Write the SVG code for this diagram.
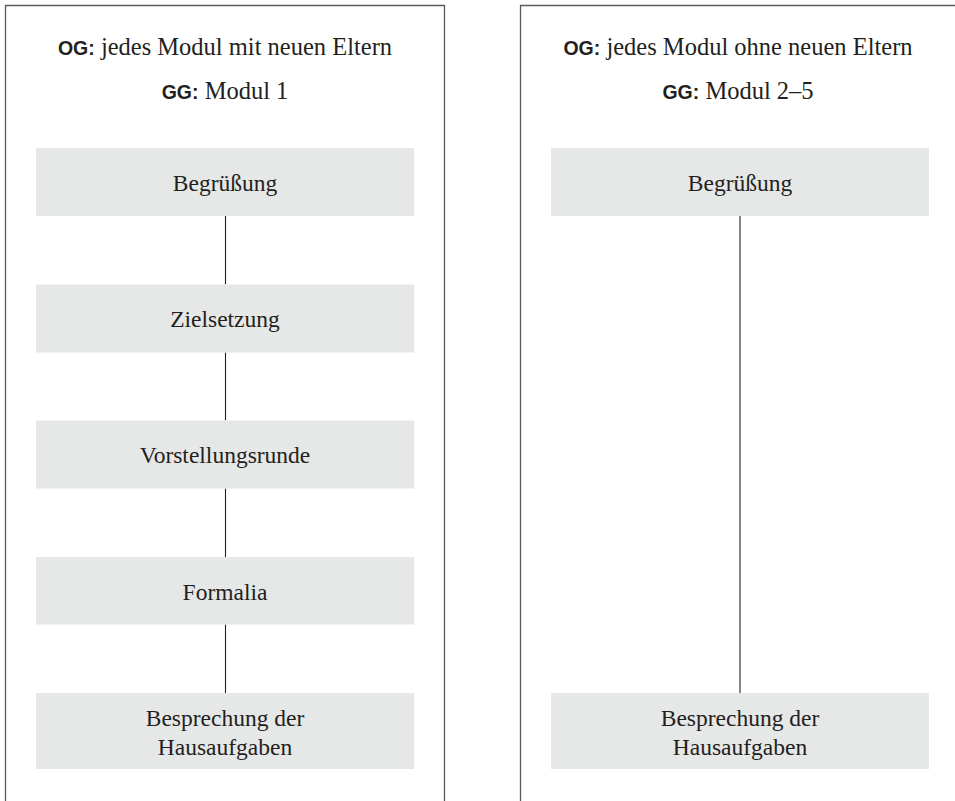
<svg xmlns="http://www.w3.org/2000/svg" width="955" height="801" viewBox="0 0 955 801">
<style>
  .frame { fill: none; stroke: #58595b; stroke-width: 1.3; }
  .box { fill: #e6e7e7; }
  .txt { font-family: "Liberation Serif", "Times New Roman", serif; font-size: 23.5px; fill: #231f20; text-anchor: middle; }
  .head { font-size: 24.5px; }
  .lbl { font-family: "Liberation Sans", Arial, sans-serif; font-weight: bold; font-size: 19.5px; fill: #231f20; }
  .conn { stroke: #231f20; stroke-width: 1.1; fill: none; }
</style>
<rect width="955" height="801" fill="#ffffff"/>

<g id="panel-left">
  <path class="frame" d="M5.5,801 V5.5 H444.5 V801"/>
  <text class="txt head" x="225" y="55"><tspan class="lbl">OG:</tspan> jedes Modul mit neuen Eltern</text>
  <text class="txt head" x="225" y="99"><tspan class="lbl">GG:</tspan> Modul 1</text>
</g>

<g id="panel-right">
  <path class="frame" d="M520.5,801 V5.5 H955"/>
  <text class="txt head" x="738" y="55"><tspan class="lbl">OG:</tspan> jedes Modul ohne neuen Eltern</text>
  <text class="txt head" x="738" y="99"><tspan class="lbl">GG:</tspan> Modul 2–5</text>
</g>

<g id="connectors">
  <line class="conn" x1="225.5" y1="216" x2="225.5" y2="284.5"/>
  <line class="conn" x1="225.5" y1="352.5" x2="225.5" y2="420.5"/>
  <line class="conn" x1="225.5" y1="488.5" x2="225.5" y2="557"/>
  <line class="conn" x1="225.5" y1="624.5" x2="225.5" y2="693"/>
  <line class="conn" x1="740" y1="216" x2="740" y2="693"/>
</g>

<g id="l-begruessung">
  <rect class="box" x="36" y="148" width="378" height="68"/>
  <text class="txt" x="225" y="191">Begrüßung</text>
</g>
<g id="l-zielsetzung">
  <rect class="box" x="36" y="284.5" width="378" height="68"/>
  <text class="txt" x="225" y="327">Zielsetzung</text>
</g>
<g id="l-vorstellungsrunde">
  <rect class="box" x="36" y="420.5" width="378" height="68"/>
  <text class="txt" x="225" y="463">Vorstellungsrunde</text>
</g>
<g id="l-formalia">
  <rect class="box" x="36" y="557" width="378" height="67.5"/>
  <text class="txt" x="225" y="600">Formalia</text>
</g>
<g id="l-hausaufgaben">
  <rect class="box" x="36" y="693" width="378" height="76"/>
  <text class="txt" x="225" y="726">Besprechung der</text>
  <text class="txt" x="225" y="755">Hausaufgaben</text>
</g>

<g id="r-begruessung">
  <rect class="box" x="551" y="148" width="378" height="68"/>
  <text class="txt" x="740" y="191">Begrüßung</text>
</g>
<g id="r-hausaufgaben">
  <rect class="box" x="551" y="693" width="378" height="76"/>
  <text class="txt" x="740" y="726">Besprechung der</text>
  <text class="txt" x="740" y="755">Hausaufgaben</text>
</g>
</svg>
